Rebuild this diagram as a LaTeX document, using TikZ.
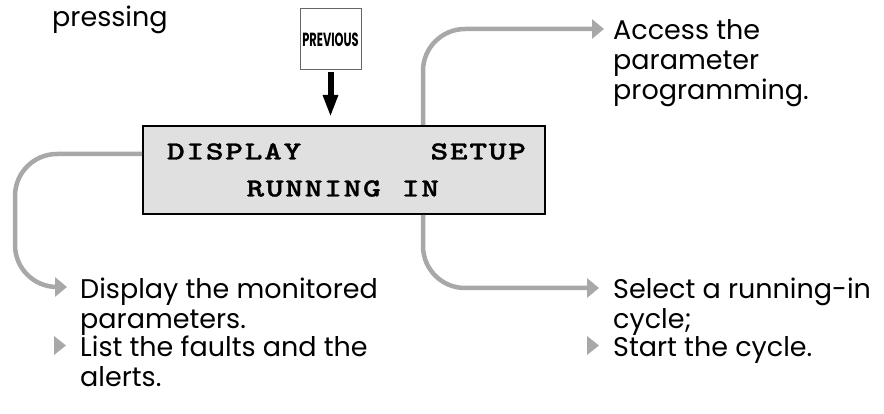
\documentclass[tikz,border=0pt]{standalone}
\usepackage{fontspec}
\setmainfont{Poppins}
\newfontfamily\keyfont{Poppins}[FakeStretch=0.6]
\newfontfamily\lcdfont{lmmonolt10-bold}[Extension=.otf, FakeStretch=1.3, FakeBold=1.2, LetterSpace=6.5]
\usetikzlibrary{arrows.meta,positioning}
\definecolor{lcdgray}{HTML}{E0E0E0}
\definecolor{leadgray}{HTML}{A8A8A8}
\definecolor{keyedge}{HTML}{666666}
\newcommand{\notefont}{\fontsize{27}{30}\selectfont}

\begin{document}
\begin{tikzpicture}[x=1pt, y=-1pt,
    lead/.style={draw=leadgray, line width=4.5pt, rounded corners=42pt, -{Triangle[width=19pt,length=12pt]}},
    note/.style={anchor=base west, inner sep=0pt, align=left, font=\notefont},
    pointer/.style={fill=leadgray}]
  \useasboundingbox (0,0) rectangle (884,414);

  % display panel and key
  \node (lcd) [draw, line width=2pt, fill=lcdgray, minimum width=402pt, minimum height=88pt,
    text width=364pt, inner xsep=0pt, align=left, font=\lcdfont\fontsize{26}{37}\selectfont]
    at (344,170) {\hspace*{5pt}DISPLAY\hfill SETUP\\\hspace*{84.5pt}RUNNING\hspace{21pt}IN};
  \node (key) [draw=keyedge, line width=1pt, fill=white, minimum size=61pt, inner sep=0pt,
    font=\keyfont\bfseries\fontsize{19}{19}\selectfont] at (330.5,39.5) {PREVIOUS};
  \draw[line width=6pt, -{Triangle[width=14pt,length=22pt]}, shorten <=2pt, shorten >=8pt]
    (key.south) -- (key.south |- lcd.north);

  % texts (base = last line)
  \node (pressing) [note] at (52,27) {pressing};
  \node (access) [note] at (613,100) {Access the\\parameter\\programming.};
  \node (display) [note] at (80,328) {Display the monitored\\parameters.};
  \node (faults) [note] at (80,386) {List the faults and the\\alerts.};
  \node (select) [note] at (613,328) {Select a running-in\\cycle;};
  \node (start) [note] at (613,356) {Start the cycle.};

  % leaders
  \coordinate (accesstip) at (604,29);
  \coordinate (selecttip) at (599,288);
  \coordinate (displaytip) at (67,287);
  \draw[lead] ([xshift=79pt]lcd.north) |- (accesstip);
  \draw[lead] ([xshift=79pt]lcd.south) |- (selecttip);
  \draw[lead] ([yshift=16pt]lcd.west) -- (15,154) -- (15,287) -- (displaytip);

  % bullets
  \fill[pointer] (66,345.5) -- ++(-12,-9.5) -- ++(0,19) -- cycle;
  \fill[pointer] (599,345.5) -- ++(-12,-9.5) -- ++(0,19) -- cycle;
\end{tikzpicture}
\end{document}
